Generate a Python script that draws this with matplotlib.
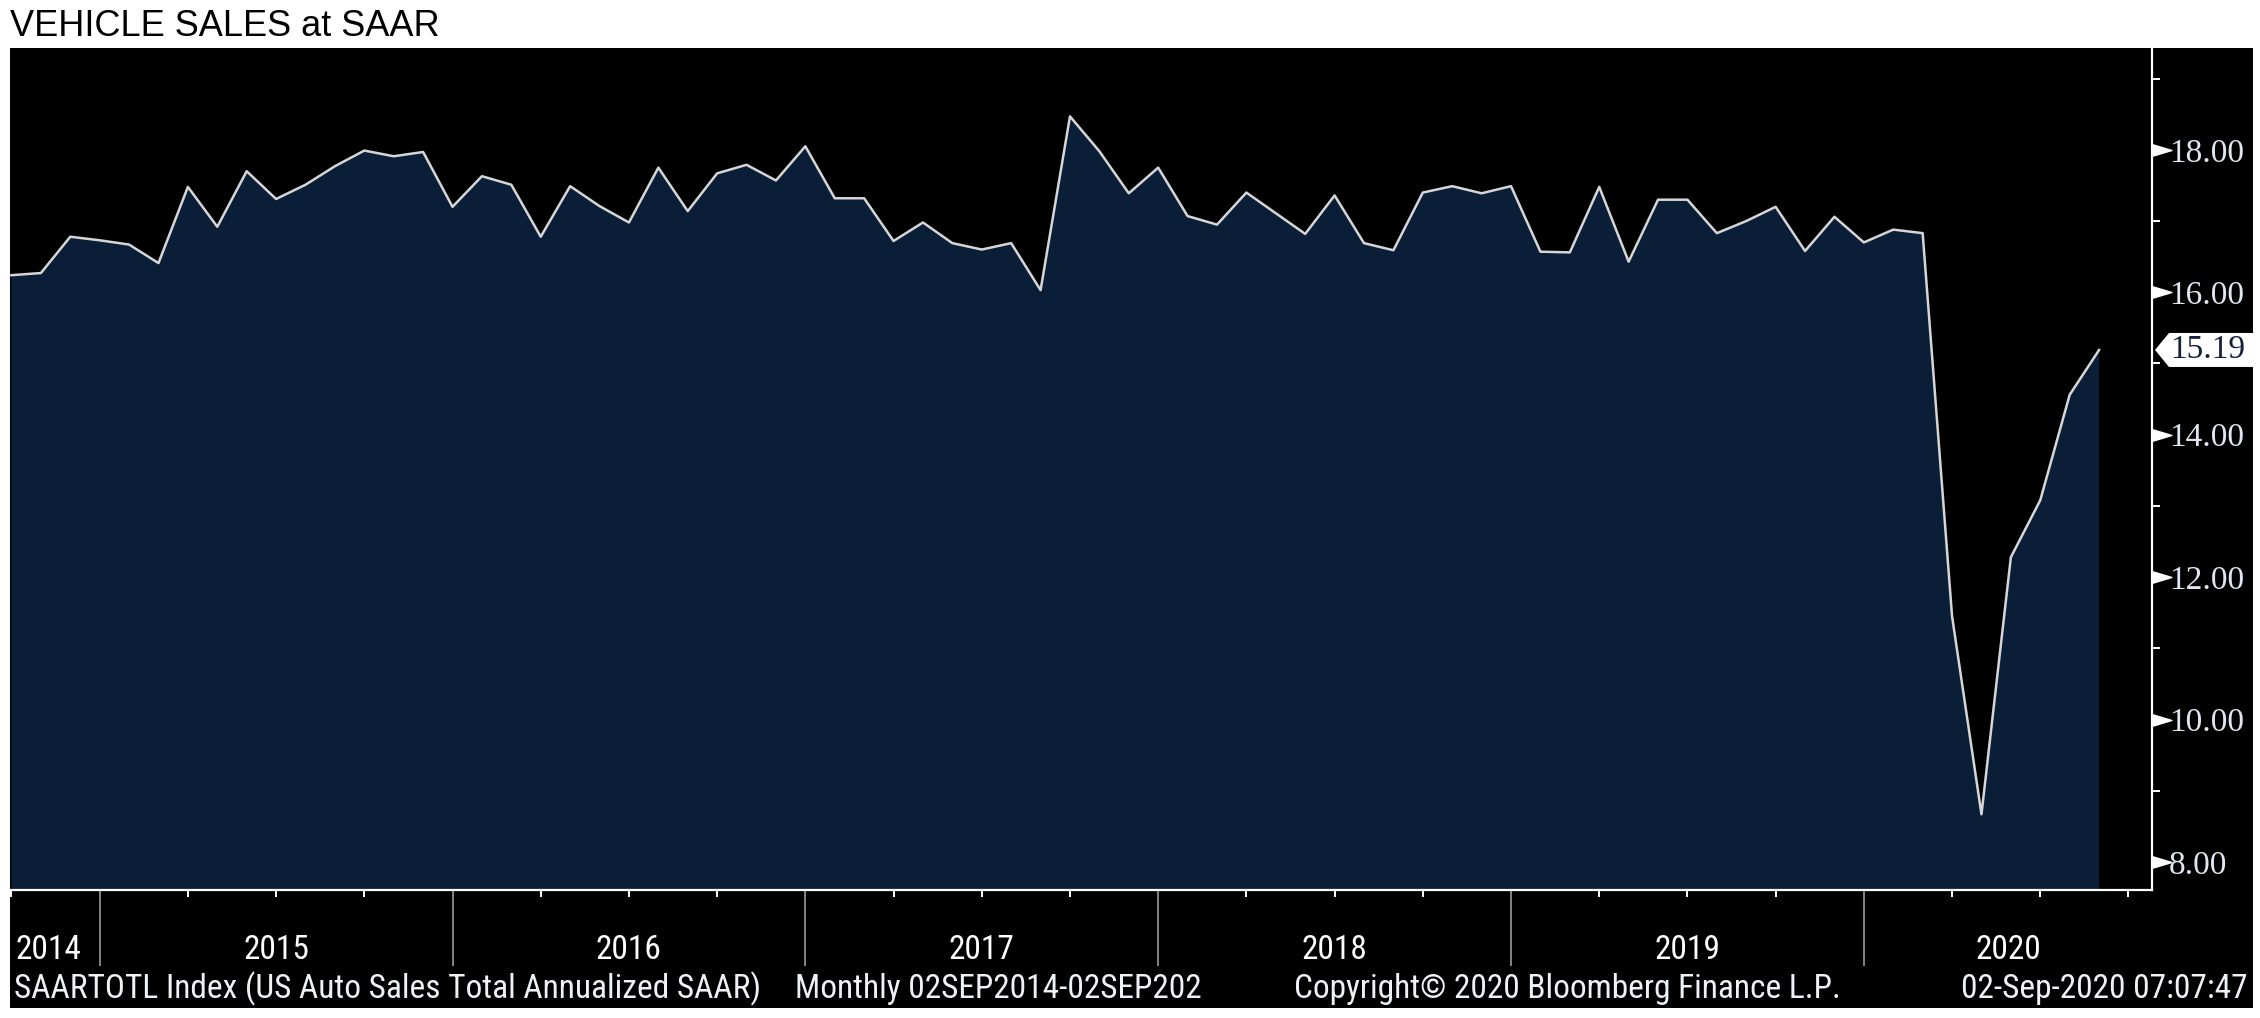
import numpy as np
import pandas as pd
import matplotlib
matplotlib.use("Agg")
import matplotlib.pyplot as plt
from matplotlib import font_manager as fm
from matplotlib.patches import Rectangle, Polygon
from matplotlib.path import Path

# US Auto Sales Total Annualized SAAR (millions), monthly Sep 2014 - Aug 2020
sales_2014 = [16.24, 16.27, 16.78, 16.73]
sales_2015 = [16.67, 16.41, 17.48, 16.92, 17.70, 17.31, 17.51, 17.77, 17.99, 17.91, 17.97, 17.20]
sales_2016 = [17.63, 17.51, 16.78, 17.49, 17.21, 16.98, 17.75, 17.14, 17.67, 17.79, 17.57, 18.05]
sales_2017 = [17.32, 17.32, 16.72, 16.98, 16.69, 16.60, 16.69, 16.03, 18.47, 17.98, 17.39, 17.75]
sales_2018 = [17.07, 16.95, 17.40, 17.11, 16.82, 17.36, 16.69, 16.59, 17.40, 17.49, 17.39, 17.49]
sales_2019 = [16.57, 16.56, 17.48, 16.43, 17.30, 17.30, 16.83, 17.00, 17.20, 16.58, 17.06, 16.70]
sales_2020 = [16.88, 16.83, 11.45, 8.67, 12.28, 13.08, 14.56, 15.19]

sales = np.array(sales_2014 + sales_2015 + sales_2016 + sales_2017 + sales_2018 + sales_2019 + sales_2020)
dates = pd.date_range("2014-09-30", periods=len(sales) + 1, freq="ME")  # one extra month for the axis end
years = [2014, 2015, 2016, 2017, 2018, 2019, 2020]
y_major = [8, 10, 12, 14, 16, 18]
y_minor = [9, 11, 13, 15, 17, 19]

title = "VEHICLE SALES at SAAR"
footer_left = "SAARTOTL Index (US Auto Sales Total Annualized SAAR)"
footer_mid = "Monthly 02SEP2014-02SEP202"
footer_copy = "Copyright\u00a9 2020 Bloomberg Finance L.P."
footer_right = "02-Sep-2020 07:07:47"

# condensed font if one is installed
names = {f.name for f in fm.fontManager.ttflist}
cond = next((n for n in ["Roboto Condensed", "DejaVu Sans Condensed", "Liberation Sans Narrow",
                         "Open Sans Condensed"] if n in names), "DejaVu Sans")
cond_size = 24 if cond != "DejaVu Sans" else 18

W, H = 2260, 1018
fig = plt.figure(figsize=(W / 100, H / 100), dpi=100, facecolor="white")

# black panel behind everything
fig.add_artist(Rectangle((10 / W, 1 - 1008 / H), (2253 - 10) / W, (1008 - 48) / H,
                         transform=fig.transFigure, facecolor="black", edgecolor="none", zorder=-5))

ax = fig.add_axes([10 / W, 1 - 890 / H, (2152 - 10) / W, (890 - 48) / H])
ax.set_facecolor("black")

x = np.arange(len(sales))
navy = "#0b1e37"
ax.fill_between(x, sales, 0, color=navy, lw=0)
ax.plot(x, sales, color="#d6d6d6", lw=1.8)

ax.set_xlim(-0.05, 72.8)
ax.set_ylim(7.607, 19.43)

# spines
for s in ["left", "top"]:
    ax.spines[s].set_visible(False)
for s in ["right", "bottom"]:
    ax.spines[s].set_color("white")
    ax.spines[s].set_linewidth(1.6)

# x axis: year boundaries as long grey ticks, quarter ends as short white ticks
xi = np.arange(len(dates))
year_ends = xi[dates.month == 12]
quarters = xi[dates.month % 3 == 0]
ax.set_xticks(year_ends)
ax.set_xticks(quarters, minor=True)
ax.tick_params(axis="x", which="major", length=55, width=1.2, color="#9a9a9a",
               direction="out", labelbottom=False)
ax.tick_params(axis="x", which="minor", length=5, width=1.4, color="white", direction="out")

# year labels centered between boundaries
bounds = [0] + list(year_ends) + [72.8]
ylab = 1 - 950 / H
for i, yr in enumerate(years):
    if i == 0:
        xp = ax.transData.transform((0, 0))[0] + 4
        fig.text(xp / W, ylab, str(yr), ha="left", va="center", color="white",
                 fontsize=cond_size, family=cond)
    else:
        xc = (bounds[i] + bounds[i + 1]) / 2
        xp = ax.transData.transform((xc, 0))[0]
        fig.text(xp / W, ylab, str(yr), ha="center", va="center", color="white",
                 fontsize=cond_size, family=cond)

# y axis on the right
ax.yaxis.tick_right()
ax.set_yticks(y_major)
ax.set_yticks(y_minor, minor=True)
ax.yaxis.set_major_formatter("{x:.2f}")
ax.tick_params(axis="y", which="major", length=0, pad=12, labelsize=24, labelcolor="#dfe6f0")
ax.tick_params(axis="y", which="minor", length=6, width=1.4, color="white", direction="out")
for lab in ax.get_yticklabels():
    lab.set_fontfamily("Liberation Serif")

# triangle markers for major ticks
tri = Path([(0, -0.3), (1, 0), (0, 0.3), (0, -0.3)], [Path.MOVETO, Path.LINETO, Path.LINETO, Path.CLOSEPOLY])
ax.plot([1.0] * len(y_major), y_major, linestyle="none", marker=tri, markersize=28,
        color="white", transform=ax.get_yaxis_transform(), clip_on=False)

# last value tag
fig.canvas.draw()
ax_px = ax.transData.transform((72.8, 0))[0]
y_px = ax.transData.transform((0, sales[-1]))[1]
tag = Polygon([(ax_px + 3, y_px), (ax_px + 17, y_px + 17), (2253, y_px + 17),
               (2253, y_px - 17), (ax_px + 17, y_px - 17)], closed=True,
              transform=None, facecolor="white", edgecolor="none", zorder=5)
fig.add_artist(tag)
fig.text((ax_px + 18) / W, y_px / H, f"{sales[-1]:.2f}", ha="left", va="center",
         fontsize=24, family="Liberation Serif", color="#14213a", zorder=6)

# title
fig.text(10 / W, 1 - 26 / H, title, ha="left", va="center", fontsize=26,
         family="Liberation Sans", color="black")

# footer
yf = 1 - 989 / H
fcol = "#eef2f7"
fig.text(14 / W, yf, footer_left, ha="left", va="center", color=fcol, fontsize=cond_size, family=cond)
fig.text(795 / W, yf, footer_mid, ha="left", va="center", color=fcol, fontsize=cond_size, family=cond)
fig.text(1294 / W, yf, footer_copy, ha="left", va="center", color=fcol, fontsize=cond_size, family=cond)
fig.text(2248 / W, yf, footer_right, ha="right", va="center", color=fcol, fontsize=cond_size, family=cond)

fig.savefig("out.png", dpi=100, facecolor="white")
